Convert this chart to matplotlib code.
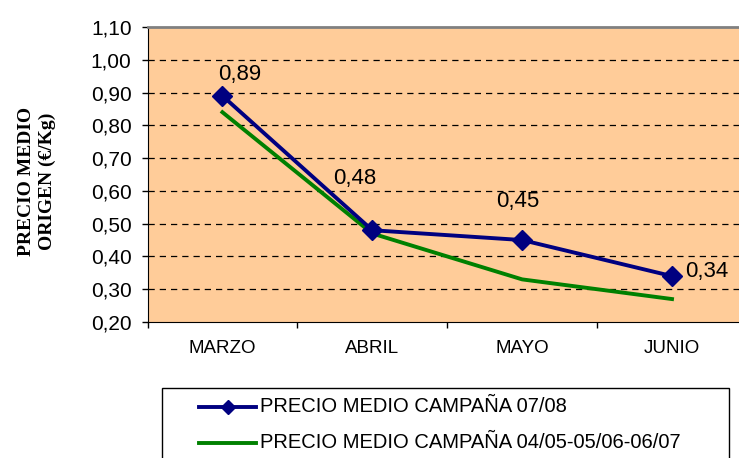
import matplotlib
matplotlib.use("Agg")
import matplotlib.pyplot as plt
from matplotlib.lines import Line2D
from matplotlib.patches import Rectangle
from matplotlib.ticker import FuncFormatter, FixedLocator

# data
meses = ["MARZO", "ABRIL", "MAYO", "JUNIO"]
precio_0708 = [0.89, 0.48, 0.45, 0.34]
precio_media = [0.84, 0.47, 0.33, 0.27]
serie_0708 = "PRECIO MEDIO CAMPAÑA 07/08"
serie_media = "PRECIO MEDIO CAMPAÑA 04/05-05/06-06/07"
yticks = [0.20, 0.30, 0.40, 0.50, 0.60, 0.70, 0.80, 0.90, 1.00, 1.10]

azul = "#000080"
verde = "#008000"
fondo = "#FFCC99"

plt.rcParams["font.family"] = ["Liberation Sans", "DejaVu Sans"]

W, H = 739, 458
fig = plt.figure(figsize=(W / 100, H / 100), dpi=100)

# axes placed in pixel terms (left 147, top 27, bottom 322, runs off right edge)
ax = fig.add_axes([147.5 / W, 1 - 322 / H, 1 - 147.5 / W, (322 - 27) / H])
ax.set_facecolor(fondo)

x = list(range(len(meses)))
ax.plot(x, precio_media, color=verde, lw=2.8, solid_joinstyle="miter", zorder=3)
ax.plot(x, precio_0708, color=azul, lw=2.8, marker="D", ms=10, mfc=azul, mec=azul,
        zorder=4)

# data labels, offsets copied from the excel layout
offsets = [(17, 21), (-18, 52), (-4, 39), (35, 5)]
for xi, yi, (dx, dy) in zip(x, precio_0708, offsets):
    ax.annotate(f"{yi:.2f}".replace(".", ","), (xi, yi), xytext=(dx, dy),
                textcoords="offset pixels", ha="center", va="center", fontsize=16,
                zorder=5)

ax.set_xlim(-0.5, 3.447)
ax.set_ylim(0.2, 1.1)

# y axis
ax.set_yticks(yticks)
ax.yaxis.set_major_formatter(FuncFormatter(lambda v, p: f"{v:.2f}".replace(".", ",")))
ax.tick_params(axis="y", direction="out", length=4.5, width=1, labelsize=15, pad=7)
for v in yticks[1:-1]:
    ax.axhline(v, color="black", lw=0.9, ls=(0, (5, 4)), zorder=1)

# x axis: ticks on category boundaries, labels centered
ax.xaxis.set_major_locator(FixedLocator([-0.5, 0.5, 1.5, 2.5, 3.5]))
ax.xaxis.set_major_formatter(FuncFormatter(lambda v, p: ""))
ax.xaxis.set_minor_locator(FixedLocator(x))
ax.set_xticklabels(meses, minor=True)
ax.tick_params(axis="x", which="major", direction="out", length=4, width=1)
ax.tick_params(axis="x", which="minor", length=0, labelsize=13.5, pad=13)

ax.spines["right"].set_visible(False)
ax.spines["top"].set_color("#808080")
ax.spines["top"].set_linewidth(2)
ax.spines["left"].set_color("black")
ax.spines["bottom"].set_color("black")

# vertical axis title, two lines
fig.text(37 / W, 1 - 181 / H, "PRECIO MEDIO\nORIGEN (€/Kg)", rotation=90,
         ha="center", va="center", fontsize=14, fontweight="bold",
         family=["Liberation Serif", "DejaVu Serif"], linespacing=1.25)

# legend box (cut off at the bottom like the original)
def px(xp, yp):
    return xp / W, 1 - yp / H

x0, y0 = px(162, 388)
x1, _ = px(729, 388)
fig.add_artist(Rectangle((x0, -0.05), x1 - x0, y0 + 0.05, transform=fig.transFigure,
                         facecolor="white", edgecolor="black", lw=1))
for fila, (etiqueta, color, marca) in enumerate([(serie_0708, azul, "D"),
                                                 (serie_media, verde, None)]):
    yy = 407 + fila * 36
    a, b = px(199, yy)
    c, _ = px(256, yy)
    fig.add_artist(Line2D([a, c], [b, b], transform=fig.transFigure, color=color,
                          lw=2.8))
    if marca:
        fig.add_artist(Line2D([(a + c) / 2], [b], transform=fig.transFigure,
                              marker=marca, ms=7, color=color, lw=0))
    tx, ty = px(260, yy)
    fig.text(tx, ty, etiqueta, ha="left", va="center", fontsize=14.5)

fig.savefig("out.png", dpi=100)
